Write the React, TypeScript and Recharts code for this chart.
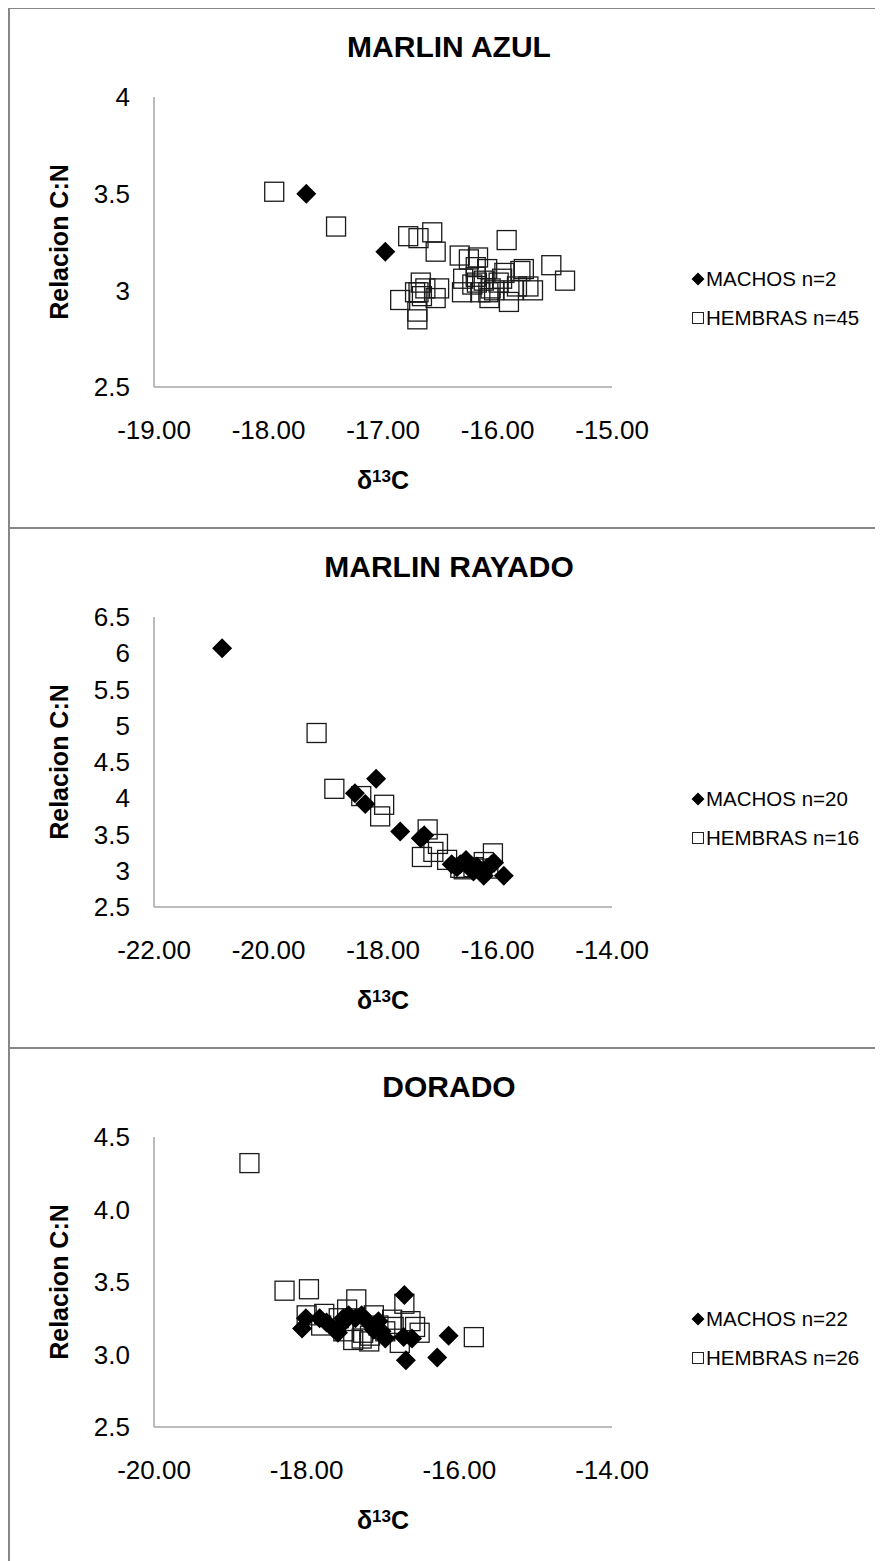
import React from 'react';
import { ScatterChart, Scatter, XAxis, YAxis, Legend, Label } from 'recharts';

type Pt = [number, number];

// ---------- MARLIN AZUL ----------
const azulMachos: Pt[] = [
  [-17.67, 3.5], [-16.98, 3.2],
];
const azulHembras: Pt[] = [
  [-17.95, 3.51], [-17.41, 3.33], [-16.78, 3.28], [-16.69, 3.27], [-16.57, 3.3],
  [-16.54, 3.2], [-16.33, 3.18], [-16.25, 3.16], [-16.17, 3.17], [-15.92, 3.26],
  [-15.53, 3.13], [-15.41, 3.05], [-15.8, 3.1], [-15.94, 3.09], [-15.69, 3.0],
  [-15.73, 3.02], [-15.9, 2.94], [-16.07, 2.96], [-16.06, 3.01], [-16.12, 3.05],
  [-16.19, 3.12], [-16.19, 3.07], [-16.3, 3.06], [-16.31, 2.99], [-16.15, 2.99],
  [-16.03, 3.0], [-15.99, 3.04], [-16.67, 3.04], [-16.51, 3.01], [-16.54, 2.96],
  [-16.85, 2.95], [-16.69, 2.99], [-16.66, 2.97], [-16.7, 2.89], [-16.7, 2.85],
  [-15.86, 3.0], [-16.09, 3.11], [-15.96, 3.06], [-15.83, 3.02], [-16.22, 3.03],
  [-16.63, 3.01], [-16.72, 2.99], [-16.08, 2.99], [-16.18, 3.04], [-15.77, 3.11],
];
const azulXTicks = [-19, -18, -17, -16, -15];
const azulYTicks = [2.5, 3, 3.5, 4];

// ---------- MARLIN RAYADO ----------
const rayadoMachos: Pt[] = [
  [-20.81, 6.07], [-18.12, 4.27], [-18.49, 4.07], [-18.31, 3.92], [-17.7, 3.54],
  [-17.34, 3.45], [-17.28, 3.49], [-16.8, 3.09], [-16.65, 3.09], [-16.55, 3.15],
  [-16.48, 3.04], [-16.42, 2.99], [-16.36, 3.06], [-16.27, 2.97], [-16.18, 3.04],
  [-16.1, 3.09], [-16.06, 3.11], [-15.89, 2.93], [-16.71, 3.05], [-16.24, 2.93],
];
const rayadoHembras: Pt[] = [
  [-19.16, 4.9], [-18.85, 4.13], [-18.38, 4.03], [-17.98, 3.91], [-18.05, 3.75],
  [-17.22, 3.57], [-17.04, 3.37], [-17.12, 3.26], [-17.32, 3.19], [-16.88, 3.15],
  [-16.59, 3.02], [-16.42, 3.05], [-16.24, 3.12], [-16.08, 3.24], [-16.65, 3.04],
  [-16.16, 3.03],
];
const rayadoXTicks = [-22, -20, -18, -16, -14];
const rayadoYTicks = [2.5, 3, 3.5, 4, 4.5, 5, 5.5, 6, 6.5];

// ---------- DORADO ----------
const doradoMachos: Pt[] = [
  [-18.06, 3.18], [-18.01, 3.25], [-17.83, 3.25], [-17.65, 3.18], [-17.59, 3.15],
  [-17.54, 3.21], [-17.45, 3.27], [-17.36, 3.25], [-17.28, 3.27], [-17.17, 3.21],
  [-17.06, 3.23], [-17.02, 3.16], [-16.97, 3.11], [-16.73, 3.12], [-16.62, 3.11],
  [-16.72, 3.41], [-16.7, 2.96], [-16.29, 2.98], [-16.14, 3.13], [-17.74, 3.22],
  [-17.52, 3.25], [-17.12, 3.17],
];
const doradoHembras: Pt[] = [
  [-18.75, 4.32], [-18.29, 3.44], [-17.97, 3.45], [-18.0, 3.27], [-17.77, 3.28],
  [-17.81, 3.2], [-17.58, 3.25], [-17.47, 3.31], [-17.35, 3.38], [-17.12, 3.27],
  [-16.88, 3.24], [-16.72, 3.35], [-16.64, 3.23], [-16.58, 3.19], [-16.52, 3.15],
  [-15.81, 3.12], [-17.39, 3.1], [-17.28, 3.11], [-17.18, 3.09], [-16.78, 3.08],
  [-16.97, 3.16], [-17.06, 3.2], [-17.52, 3.16], [-17.17, 3.13], [-17.26, 3.15],
  [-16.86, 3.19],
];
const doradoXTicks = [-20, -18, -16, -14];
const doradoYTicks = [2.5, 3.0, 3.5, 4.0, 4.5];

const FONT = '"Liberation Sans", Arial, sans-serif';
const AXIS_COLOR = '#a6a6a6';
const BORDER_COLOR = '#878787';

const toObjs = (pts: Pt[]) => pts.map(([x, y]) => ({ x, y }));

const Diamond = (props: any) => {
  const { cx, cy } = props;
  const r = 10;
  return (
    <polygon
      points={`${cx},${cy - r} ${cx + r},${cy} ${cx},${cy + r} ${cx - r},${cy}`}
      fill="#000"
    />
  );
};

const Square = (props: any) => {
  const { cx, cy } = props;
  const s = 19;
  return (
    <rect
      x={cx - s / 2}
      y={cy - s / 2}
      width={s}
      height={s}
      fill="none"
      stroke="#1a1a1a"
      strokeWidth={1.3}
    />
  );
};

type PanelProps = {
  title: string;
  machos: Pt[];
  hembras: Pt[];
  xTicks: number[];
  yTicks: number[];
  yFmt: (v: number) => string;
};

const LegendContent = ({ nM, nH }: { nM: number; nH: number }) => (
  <div style={{ fontFamily: FONT, fontSize: 20.5, color: '#000', lineHeight: '39px' }}>
    <div style={{ display: 'flex', alignItems: 'center', whiteSpace: 'nowrap' }}>
      <svg width={14} height={14} style={{ marginRight: 1 }}>
        <polygon points="7,0.5 13.5,7 7,13.5 0.5,7" fill="#000" />
      </svg>
      <span>MACHOS n={nM}</span>
    </div>
    <div style={{ display: 'flex', alignItems: 'center', whiteSpace: 'nowrap' }}>
      <svg width={14} height={14} style={{ marginRight: 1 }}>
        <rect x={1.5} y={1.5} width={11} height={11} fill="none" stroke="#222" strokeWidth={1} />
      </svg>
      <span>HEMBRAS n={nH}</span>
    </div>
  </div>
);

const Panel = ({ title, machos, hembras, xTicks, yTicks, yFmt }: PanelProps) => {
  const xDomain = [xTicks[0], xTicks[xTicks.length - 1]];
  const yDomain = [yTicks[0], yTicks[yTicks.length - 1]];
  return (
    <div
      style={{
        position: 'relative',
        height: 520,
        width: 900,
        boxSizing: 'border-box',
        borderTop: `2px solid ${BORDER_COLOR}`,
        borderLeft: `2px solid ${BORDER_COLOR}`,
      }}
    >
      <div
        style={{
          position: 'absolute',
          left: 0,
          top: 21,
          width: 878,
          textAlign: 'center',
          fontFamily: FONT,
          fontWeight: 'bold',
          fontSize: 30,
          lineHeight: '34px',
          color: '#000',
          zIndex: 2,
        }}
      >
        {title}
      </div>
      <div style={{ position: 'absolute', left: 0, top: 0 }}>
        <ScatterChart
          width={860}
          height={515}
          margin={{ top: 88, left: 84, right: 258, bottom: 87 }}
        >
          <XAxis
            type="number"
            dataKey="x"
            domain={xDomain}
            ticks={xTicks}
            allowDataOverflow
            tickFormatter={(v: number) => v.toFixed(2)}
            tickLine={false}
            tickSize={6}
            tickMargin={28}
            height={50}
            axisLine={{ stroke: AXIS_COLOR, strokeWidth: 1.5 }}
            tick={{ fill: '#000', fontSize: 26, fontFamily: FONT }}
            interval={0}
          >
            <Label
              content={(p: any) => {
                const vb = p.viewBox;
                const cx = vb.x + vb.width / 2;
                const cy = vb.y + 102;
                return (
                  <text
                    x={cx}
                    y={cy}
                    textAnchor="middle"
                    fontFamily={FONT}
                    fontWeight="bold"
                    fontSize={25}
                    fill="#000"
                  >
                    δ
                    <tspan dy={-7} fontSize={17}>13</tspan>
                    <tspan dy={7}>C</tspan>
                  </text>
                );
              }}
            />
          </XAxis>
          <YAxis
            type="number"
            dataKey="y"
            domain={yDomain}
            ticks={yTicks}
            allowDataOverflow
            tickFormatter={yFmt}
            tickLine={false}
            tickSize={6}
            tickMargin={18}
            width={60}
            axisLine={{ stroke: AXIS_COLOR, strokeWidth: 1.5 }}
            tick={{ fill: '#000', fontSize: 26, fontFamily: FONT }}
            interval={0}
          >
            <Label
              content={() => (
                <text
                  x={49}
                  y={233}
                  transform="rotate(-90 49 233)"
                  textAnchor="middle"
                  dominantBaseline="central"
                  fontFamily={FONT}
                  fontWeight="bold"
                  fontSize={25}
                  fill="#000"
                >
                  Relacion C:N
                </text>
              )}
            />
          </YAxis>
          <Legend
            layout="vertical"
            align="center"
            verticalAlign="middle"
            wrapperStyle={{ left: 681, top: 250, width: 190, height: 80 }}
            content={() => <LegendContent nM={machos.length} nH={hembras.length} />}
          />
          <Scatter
            name={`HEMBRAS n=${hembras.length}`}
            data={toObjs(hembras)}
            shape={Square}
            isAnimationActive={false}
          />
          <Scatter
            name={`MACHOS n=${machos.length}`}
            data={toObjs(machos)}
            shape={Diamond}
            isAnimationActive={false}
          />
        </ScatterChart>
      </div>
    </div>
  );
};

export default function App() {
  return (
    <div style={{ width: 875, overflow: 'hidden', marginTop: -1 }}>
      <Panel
        title="MARLIN AZUL"
        machos={azulMachos}
        hembras={azulHembras}
        xTicks={azulXTicks}
        yTicks={azulYTicks}
        yFmt={(v) => String(v)}
      />
      <Panel
        title="MARLIN RAYADO"
        machos={rayadoMachos}
        hembras={rayadoHembras}
        xTicks={rayadoXTicks}
        yTicks={rayadoYTicks}
        yFmt={(v) => String(v)}
      />
      <Panel
        title="DORADO"
        machos={doradoMachos}
        hembras={doradoHembras}
        xTicks={doradoXTicks}
        yTicks={doradoYTicks}
        yFmt={(v) => v.toFixed(1)}
      />
    </div>
  );
}
